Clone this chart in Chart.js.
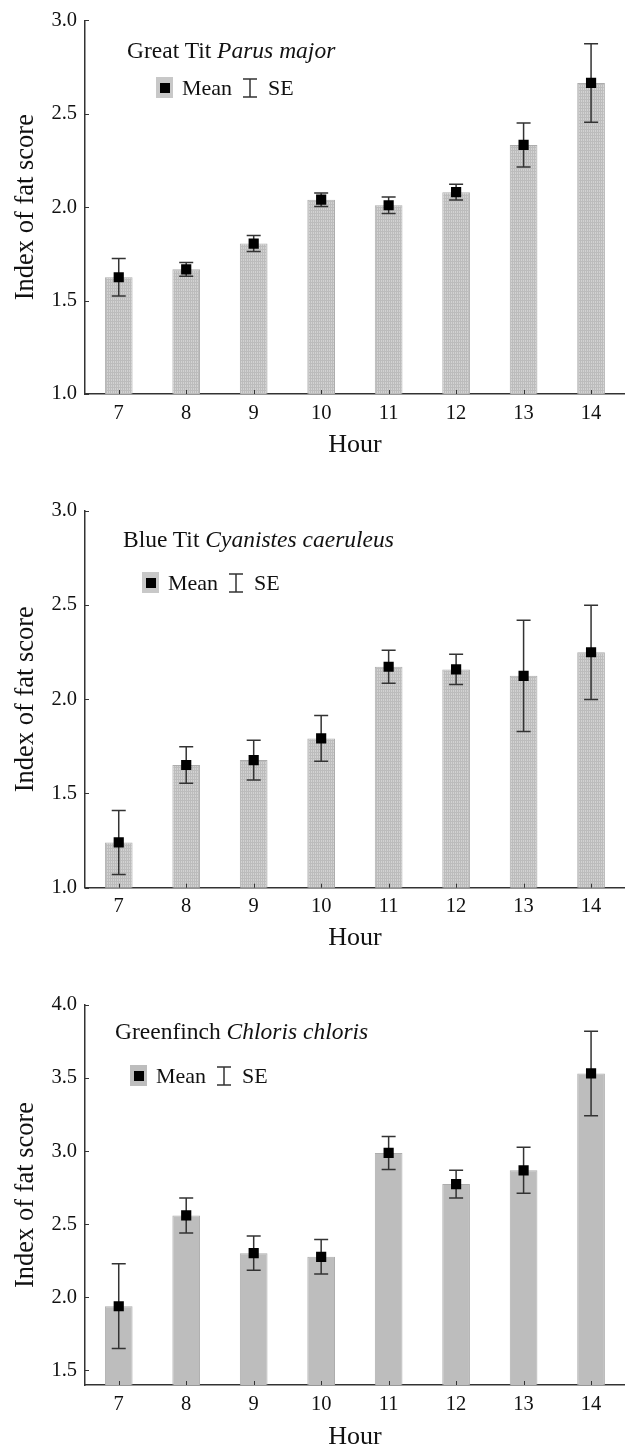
<!DOCTYPE html>
<html>
<head>
<meta charset="utf-8">
<script src="https://cdn.jsdelivr.net/npm/chart.js@4.4.1/dist/chart.umd.min.js"></script>
<style>
  html, body { margin: 0; padding: 0; background: #fff; overflow: hidden; }
  #page { position: relative; width: 632px; height: 1449px; overflow: hidden; font-family: 'Liberation Serif', serif; color: #111; }
  .panel { position: absolute; left: 0; width: 632px; overflow: hidden; }
  canvas { display: block; }
  .species { position: absolute; font-size: 23.5px; line-height: 26px; white-space: nowrap; }
  .key { position: absolute; height: 24px; width: 160px; font-size: 22px; line-height: 24px; white-space: nowrap; }
  .key .swatch { position: absolute; left: 0; top: 1px; width: 17px; height: 21px; background: #c8c8c8; }
  .key .swatch i { position: absolute; left: 3.5px; top: 5.5px; width: 10px; height: 10px; background: #000; }
  .key .mean { position: absolute; left: 26px; top: 0; }
  .key svg { position: absolute; left: 86px; top: 2px; }
  .key .se { position: absolute; left: 112px; top: 0; }
</style>
</head>
<body>
<div id="page">
  <div class="panel" style="top:0;height:470px"><canvas id="c1" width="632" height="470"></canvas></div>
  <div class="panel" style="top:470px;height:490px"><canvas id="c2" width="632" height="490"></canvas></div>
  <div class="panel" style="top:960px;height:493px"><canvas id="c3" width="632" height="493"></canvas></div>

  <div class="species" style="left:127px;top:37px">Great Tit <i>Parus major</i></div>
  <div class="species" style="left:123px;top:526px">Blue Tit <i>Cyanistes caeruleus</i></div>
  <div class="species" style="left:115px;top:1018px">Greenfinch <i>Chloris chloris</i></div>

  <div class="key" style="left:156px;top:76px"><span class="swatch"><i></i></span><span class="mean">Mean</span><svg width="16" height="20"><path d="M1 1H15M8 1V19M1 19H15" stroke="#333" stroke-width="1.5" fill="none"/></svg><span class="se">SE</span></div>
  <div class="key" style="left:142px;top:571px"><span class="swatch"><i></i></span><span class="mean">Mean</span><svg width="16" height="20"><path d="M1 1H15M8 1V19M1 19H15" stroke="#333" stroke-width="1.5" fill="none"/></svg><span class="se">SE</span></div>
  <div class="key" style="left:130px;top:1064px"><span class="swatch" style="background:#bdbdbd"><i></i></span><span class="mean">Mean</span><svg width="16" height="20"><path d="M1 1H15M8 1V19M1 19H15" stroke="#333" stroke-width="1.5" fill="none"/></svg><span class="se">SE</span></div>
</div>
<script>
const hours = ['7', '8', '9', '10', '11', '12', '13', '14']

const greatTitMean = [1.625, 1.667, 1.805, 2.04, 2.01, 2.08, 2.333, 2.665]
const greatTitSE = [0.10, 0.037, 0.043, 0.036, 0.044, 0.042, 0.118, 0.21]

const blueTitMean = [1.24, 1.651, 1.677, 1.792, 2.172, 2.158, 2.124, 2.249]
const blueTitSE = [0.17, 0.097, 0.105, 0.121, 0.088, 0.08, 0.295, 0.25]

const greenfinchMean = [1.939, 2.56, 2.302, 2.277, 2.988, 2.775, 2.869, 3.532]
const greenfinchSE = [0.29, 0.12, 0.117, 0.118, 0.113, 0.095, 0.157, 0.289]

const titTicks = [1.0, 1.5, 2.0, 2.5, 3.0]
const greenfinchTicks = [1.5, 2.0, 2.5, 3.0, 3.5, 4.0]

const FONT = "'Liberation Serif', serif"
const AXIS = '#333'

// fine grey mesh used for the tit panels
function hatch (bg, line) {
  const c = document.createElement('canvas')
  c.width = 2
  c.height = 3
  const g = c.getContext('2d')
  g.fillStyle = bg
  g.fillRect(0, 0, 2, 3)
  g.fillStyle = line
  g.fillRect(0, 0, 2, 1)
  g.fillRect(0, 0, 1, 3)
  return g.createPattern(c, 'repeat')
}

// whiskers go under the mean squares, so draw them right after the bars
const errorBars = {
  id: 'errorBars',
  afterDatasetDraw (chart, args, opts) {
    if (args.index !== 0) return
    const means = chart.data.datasets[0].data
    const x = chart.scales.x
    const y = chart.scales.y
    const ctx = chart.ctx
    ctx.save()
    ctx.strokeStyle = AXIS
    ctx.lineWidth = 1.5
    means.forEach((m, i) => {
      const px = x.getPixelForValue(i)
      const hi = y.getPixelForValue(m + opts.se[i])
      const lo = y.getPixelForValue(m - opts.se[i])
      ctx.beginPath()
      ctx.moveTo(px, hi)
      ctx.lineTo(px, lo)
      ctx.moveTo(px - 7, hi)
      ctx.lineTo(px + 7, hi)
      ctx.moveTo(px - 7, lo)
      ctx.lineTo(px + 7, lo)
      ctx.stroke()
    })
    ctx.restore()
  }
}

// small tick marks pointing into the plot
const innerTicks = {
  id: 'innerTicks',
  afterDraw (chart) {
    const { x, y } = chart.scales
    const ctx = chart.ctx
    const area = chart.chartArea
    ctx.save()
    ctx.strokeStyle = AXIS
    ctx.lineWidth = 1
    ctx.beginPath()
    y.ticks.forEach(t => {
      const py = Math.round(y.getPixelForValue(t.value)) + 0.5
      ctx.moveTo(area.left, py)
      ctx.lineTo(area.left + 4, py)
    })
    x.ticks.forEach((t, i) => {
      const px = Math.round(x.getPixelForValue(i)) + 0.5
      ctx.moveTo(px, area.bottom)
      ctx.lineTo(px, area.bottom - 4)
    })
    ctx.stroke()
    ctx.restore()
  }
}

function makeChart (id, means, ses, yMin, yMax, yTicks, fill, pad, xHeight) {
  return new Chart(document.getElementById(id), {
    type: 'bar',
    data: {
      labels: hours,
      datasets: [
        {
          type: 'bar',
          data: means,
          backgroundColor: fill,
          borderColor: '#adadad',
          borderWidth: 1,
          barPercentage: 0.41,
          categoryPercentage: 1,
          order: 2
        },
        {
          type: 'line',
          data: means,
          showLine: false,
          pointStyle: 'rect',
          pointRadius: 7.2,
          pointBackgroundColor: '#000',
          pointBorderColor: '#000',
          pointBorderWidth: 0,
          order: 1
        }
      ]
    },
    options: {
      responsive: false,
      animation: false,
      layout: { padding: pad },
      plugins: {
        legend: { display: false },
        tooltip: { enabled: false },
        errorBars: { se: ses }
      },
      scales: {
        x: {
          offset: true,
          grid: { display: false, drawTicks: false },
          border: { color: AXIS, width: 1.5 },
          ticks: { color: '#111', padding: 7, font: { family: FONT, size: 20.5 } },
          title: {
            display: true,
            text: 'Hour',
            color: '#111',
            padding: 0,
            font: { family: FONT, size: 26 }
          },
          afterFit: s => { s.height = xHeight }
        },
        y: {
          min: yMin,
          max: yMax,
          grid: { display: false, drawTicks: false },
          border: { color: AXIS, width: 1.5 },
          ticks: {
            color: '#111',
            padding: 8,
            font: { family: FONT, size: 20.5 },
            callback: v => v.toFixed(1)
          },
          afterBuildTicks: s => { s.ticks = yTicks.map(v => ({ value: v })) },
          title: {
            display: true,
            text: 'Index of fat score',
            color: '#111',
            padding: { top: 10, bottom: 0 },
            font: { family: FONT, size: 26.5 }
          },
          afterFit: s => { s.width = 85 }
        }
      }
    },
    plugins: [errorBars, innerTicks]
  })
}

const titFill = () => hatch('#d2d2d2', '#bcbcbc')

makeChart('c1', greatTitMean, greatTitSE, 1, 3, titTicks, titFill(),
  { top: 19, right: 4, bottom: 9.4, left: 0 }, 66.6)
makeChart('c2', blueTitMean, blueTitSE, 1, 3, titTicks, titFill(),
  { top: 40.7, right: 4, bottom: 6.4, left: 0 }, 65.9)
makeChart('c3', greenfinchMean, greenfinchSE, 1.4, 4, greenfinchTicks, '#bdbdbd',
  { top: 45, right: 4, bottom: 0.4, left: 0 }, 67.6)
</script>
</body>
</html>
